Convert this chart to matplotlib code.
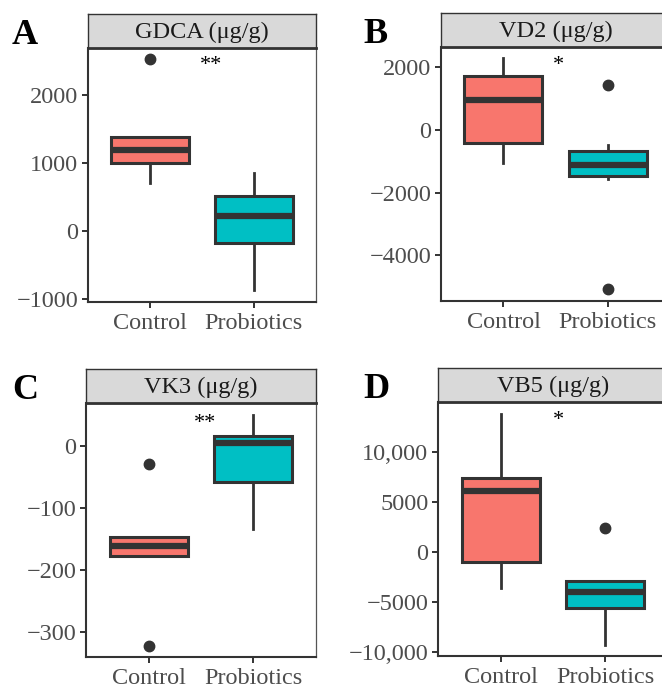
import matplotlib
matplotlib.use("Agg")
import matplotlib.pyplot as plt

plt.rcParams['font.family'] = ['Liberation Serif', 'DejaVu Serif']

W, H = 662, 690
groups = ['Control', 'Probiotics']
colors = ['#F8766D', '#00BFC4']

# box stats: (whislo, q1, median, q3, whishi, outliers)
gdca_control = (701, 996, 1196, 1378, 1378, [2525])
gdca_probio = (-868, -172, 221, 515, 857, [])
vd2_control = (-1045, -425, 958, 1725, 2290, [])
vd2_probio = (-1565, -1460, -1118, -671, -479, [1438, -5090])
vk3_control = (-176.6, -176.6, -161.6, -147, -147, [-28.5, -322])
vk3_probio = (-133, -58, 5, 17.3, 51, [])
vb5_control = (-3660, -1000, 6100, 7340, 13740, [])
vb5_probio = (-9260, -5660, -4060, -2900, -2900, [2340])

titles = ['GDCA (μg/g)', 'VD2 (μg/g)', 'VK3 (μg/g)', 'VB5 (μg/g)']
letters = ['A', 'B', 'C', 'D']
stars = ['**', '*', '**', '*']
star_pos = [(1.59, 2515), (1.53, 2236), (1.54, 47), (1.55, 13670)]
yticks = [[-1000, 0, 1000, 2000],
          [-4000, -2000, 0, 2000],
          [-300, -200, -100, 0],
          [-10000, -5000, 0, 5000, 10000]]
yticklabels = [['\u22121000', '0', '1000', '2000'],
               ['\u22124000', '\u22122000', '0', '2000'],
               ['\u2212300', '\u2212200', '\u2212100', '0'],
               ['\u221210,000', '\u22125000', '0', '5000', '10,000']]
ylims = [(-1044, 2691), (-5463, 2652), (-340, 70), (-10400, 14940)]
data = [(gdca_control, gdca_probio), (vd2_control, vd2_probio),
        (vk3_control, vk3_probio), (vb5_control, vb5_probio)]

# panel boxes in pixels: left, right, plot top, plot bottom, strip top
boxes = [(88, 316, 48, 302, 14),
         (441, 670, 47, 301, 13),
         (86, 316, 403, 657, 369),
         (438, 668, 402, 656, 368)]
letter_pos = [(12, 44), (363, 43), (12, 399), (363, 398)]

fig = plt.figure(figsize=(W / 100, H / 100), dpi=100)

def stat(t, lab):
    return dict(whislo=t[0], q1=t[1], med=t[2], q3=t[3], whishi=t[4],
                fliers=t[5], label=lab)

for i in range(4):
    l, r, top, bot, stop = boxes[i]
    ax = fig.add_axes([l / W, 1 - bot / H, (r - l) / W, (bot - top) / H])
    st = [stat(data[i][0], groups[0]), stat(data[i][1], groups[1])]
    res = ax.bxp(st, positions=[1, 2], widths=0.75, patch_artist=True,
                 showcaps=False,
                 boxprops=dict(edgecolor='#333333', linewidth=2.2),
                 medianprops=dict(color='#333333', linewidth=4.5, solid_capstyle='butt'),
                 whiskerprops=dict(color='#333333', linewidth=2.0),
                 flierprops=dict(marker='o', markerfacecolor='#333333',
                                 markeredgecolor='#333333', markersize=7.5))
    for patch, c in zip(res['boxes'], colors):
        patch.set_facecolor(c)
        patch.set_zorder(2)
    for m in res['medians']:
        m.set_zorder(3)
    ax.set_xlim(0.4, 2.6)
    ax.set_ylim(*ylims[i])
    ax.set_yticks(yticks[i])
    ax.set_yticklabels(yticklabels[i])
    ax.set_xticks([1, 2])
    ax.set_xticklabels(groups)
    ax.tick_params(labelsize=17.5, colors='#333333', labelcolor='#4D4D4D',
                   length=4, width=1.4, pad=3)
    ax.tick_params(axis='x', pad=4)
    for s in ['left', 'bottom']:
        ax.spines[s].set_color('#333333')
        ax.spines[s].set_linewidth(1.5)
    for s in ['right', 'top']:
        ax.spines[s].set_color('#555555')
        ax.spines[s].set_linewidth(0.9)
    sx, sy = star_pos[i]
    ax.annotate(stars[i], (sx, sy), xytext=(0, -7.5), textcoords='offset points',
                ha='center', va='baseline', fontsize=16, color='black')

    # strip
    sax = fig.add_axes([l / W, 1 - top / H, (r - l) / W, (top - stop) / H])
    sax.set_facecolor('#D9D9D9')
    sax.set_xticks([])
    sax.set_yticks([])
    for s in sax.spines.values():
        s.set_color('#333333')
        s.set_linewidth(1.0)
    sax.spines['bottom'].set_linewidth(2.0)
    sax.text(0.5, 0.45, titles[i], transform=sax.transAxes, ha='center',
             va='center', fontsize=17.5, color='#1A1A1A')

    lx, ly = letter_pos[i]
    fig.text(lx / W, 1 - ly / H, letters[i], fontsize=26, fontweight='bold',
             ha='left', va='baseline')

fig.savefig('out.png', dpi=100)
